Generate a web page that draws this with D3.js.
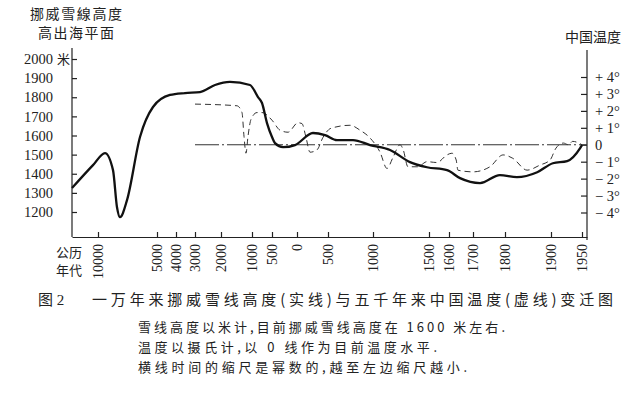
<!DOCTYPE html>
<html>
<head>
<meta charset="utf-8">
<script src="https://cdn.jsdelivr.net/npm/d3@7"></script>
<style>
  body { margin: 0; background: #fff; }
  svg { display: block; font-family: "Liberation Serif", "Times New Roman", "DejaVu Serif", "Noto Sans CJK SC", serif; }
  .axis path, .axis line { stroke: #222; stroke-width: 1.2; }
  .axis text { fill: #222; font-family: "Liberation Serif", "Times New Roman", "DejaVu Serif", serif; }
</style>
</head>
<body>
<div id="app"></div>
<script>
// Norwegian snow line height (m), solid line
const snowYears = [-12000, -10385, -9407, -8729, -8390, -8136, -7542, -6441, -5339, -4316, -3526, -2808, -2231, -1710, -1065, -850, -750, -625, -500, -440, -280, -40, 258, 452, 600, 778, 967, 1152, 1330, 1482, 1590, 1646, 1722, 1784, 1826, 1870, 1903, 1926, 1947, 1950];
const snowHeights = [1325, 1445, 1508, 1419, 1225, 1173, 1262, 1592, 1749, 1812, 1822, 1827, 1864, 1880, 1864, 1801, 1770, 1665, 1592, 1560, 1539, 1550, 1613, 1602, 1576, 1576, 1550, 1524, 1461, 1434, 1419, 1377, 1351, 1393, 1382, 1408, 1455, 1466, 1534, 1550];

// China temperature anomaly (deg C), dashed line
const tempYears = [-3000, -1484, -1323, -1258, -1194, -1129, -1032, -875, -750, -500, -340, -180, 16, 80, 145, 210, 323, 420, 532, 744, 856, 967, 1063, 1125, 1179, 1241, 1270, 1312, 1400, 1482, 1540, 1590, 1612, 1630, 1637, 1700, 1753, 1794, 1817, 1848, 1876, 1898, 1908, 1920, 1928, 1935, 1950];
const tempValues = [2.4, 2.3, 1.9, 0.5, -0.5, 0.5, 1.5, 1.9, 1.9, 1.45, 0.86, 0.74, 1.3, 1.25, 0.44, -0.44, -0.3, 0.44, 0.97, 1.15, 0.86, 0.4, -0.44, -1.4, -0.74, 0, -0.3, -1.3, -1.3, -1.0, -1.05, -0.6, -0.5, -0.9, -1.5, -1.6, -1.3, -0.6, -0.8, -1.5, -1.2, -0.9, -0.2, 0.1, 0.0, 0.2, 0.0];

// axis ticks
const xTickYears = [-10000, -5000, -4000, -3000, -2000, -1000, -500, 0, 500, 1000, 1500, 1600, 1700, 1800, 1900, 1950];
const xTickLabels = ["10000", "5000", "4000", "3000", "2000", "1000", "500", "0", "500", "1000", "1500", "1600", "1700", "1800", "1900", "1950"];
const snowTicks = [1200, 1300, 1400, 1500, 1600, 1700, 1800, 1900, 2000];
const tempTicks = [4, 3, 2, 1, 0, -1, -2, -3, -4];
const tempTickLabels = ["+ 4°", "+ 3°", "+ 2°", "+ 1°", "0", "− 1°", "− 2°", "− 3°", "− 4°"];

const captionTitle = "图 2";
const captionMain = "一万年来挪威雪线高度(实线)与五千年来中国温度(虚线)变迁图";
const notes = [
  "雪线高度以米计,目前挪威雪线高度在 1600 米左右.",
  "温度以摄氏计,以 0 线作为目前温度水平.",
  "横线时间的缩尺是幂数的,越至左边缩尺越小."
];

const W = 641, H = 393;
const left = 72, right = 587, bottom = 237;

const svg = d3.select("#app").append("svg").attr("width", W).attr("height", H);

// time axis is compressed toward the left (non-linear), piecewise scale
const x = d3.scaleLinear()
  .domain([-12000, -10000, -5000, -4000, -3000, -2000, -1000, -500, 0, 500, 1000, 1500, 1600, 1700, 1800, 1900, 1950, 1958])
  .range([left, 98, 157, 176, 195, 221, 252, 272, 297, 328, 373, 429, 449, 473, 505, 551, 582, right]);

const ySnow = d3.scaleLinear().domain([1200, 2000]).range([212, 59]);
const yTemp = d3.scaleLinear().domain([-4, 4]).range([212.5, 77]);

// axes
svg.append("g")
  .attr("class", "axis")
  .attr("transform", `translate(0,${bottom})`)
  .call(d3.axisBottom(x).tickValues(xTickYears).tickSize(-5).tickSizeOuter(0)
    .tickFormat((d, i) => xTickLabels[i]))
  .attr("font-family", null)
  .call(g => g.selectAll("text")
    .attr("transform", "rotate(-90)")
    .attr("x", -7).attr("y", 0).attr("dy", "0.35em")
    .style("text-anchor", "end")
    .style("font-size", "14px"));

svg.append("g")
  .attr("class", "axis")
  .attr("transform", `translate(${left},0)`)
  .call(d3.axisLeft(ySnow).tickValues(snowTicks).tickSize(-5).tickSizeOuter(0).tickPadding(19)
    .tickFormat(d3.format("d")))
  .attr("font-family", null)
  .call(g => g.select(".domain").attr("d", `M0,48V${bottom}`))
  .call(g => g.selectAll("text").style("font-size", "14.5px"));

svg.append("g")
  .attr("class", "axis")
  .attr("transform", `translate(${right},0)`)
  .call(d3.axisRight(yTemp).tickValues(tempTicks).tickSize(-6).tickSizeOuter(0).tickPadding(8)
    .tickFormat((d, i) => tempTickLabels[i]))
  .attr("font-family", null)
  .call(g => g.select(".domain").attr("d", `M0,50V${bottom + 3}`))
  .call(g => g.selectAll("text").style("font-size", "14.5px"));

// zero line of present temperature
svg.append("line")
  .attr("x1", x(-3000)).attr("x2", right)
  .attr("y1", yTemp(0)).attr("y2", yTemp(0))
  .attr("stroke", "#333").attr("stroke-width", 1)
  .attr("stroke-dasharray", "24,3,2,3");

// temperature (dashed)
const tempLine = d3.line()
  .x((d, i) => x(tempYears[i]))
  .y(d => yTemp(d))
  .curve(d3.curveMonotoneX);

svg.append("path")
  .attr("d", tempLine(tempValues))
  .attr("fill", "none")
  .attr("stroke", "#333")
  .attr("stroke-width", 1)
  .attr("stroke-dasharray", "6,4");

// snow line (solid)
const snowLine = d3.line()
  .x((d, i) => x(snowYears[i]))
  .y(d => ySnow(d))
  .curve(d3.curveMonotoneX);

svg.append("path")
  .attr("d", snowLine(snowHeights))
  .attr("fill", "none")
  .attr("stroke", "#111")
  .attr("stroke-width", 2.3);

// labels
const cjk = "'Noto Sans CJK SC', sans-serif";
svg.append("text").attr("x", 76).attr("y", 19).attr("text-anchor", "middle")
  .style("font-family", cjk).style("font-size", "14px").attr("fill", "#222")
  .attr("textLength", 92).attr("lengthAdjust", "spacing")
  .text("挪威雪線高度");
svg.append("text").attr("x", 76).attr("y", 38).attr("text-anchor", "middle")
  .style("font-family", cjk).style("font-size", "14px").attr("fill", "#222")
  .attr("textLength", 76).attr("lengthAdjust", "spacing")
  .text("高出海平面");
svg.append("text").attr("x", 57).attr("y", 64)
  .style("font-family", cjk).style("font-size", "13px").attr("fill", "#222")
  .text("米");
svg.append("text").attr("x", 593).attr("y", 42).attr("text-anchor", "middle")
  .style("font-family", cjk).style("font-size", "14px").attr("fill", "#222")
  .text("中国温度");
svg.append("text").attr("x", 56).attr("y", 257)
  .style("font-family", cjk).style("font-size", "13px").attr("fill", "#222")
  .text("公历");
svg.append("text").attr("x", 56).attr("y", 275)
  .style("font-family", cjk).style("font-size", "13px").attr("fill", "#222")
  .text("年代");

// caption
svg.append("text").attr("x", 38).attr("y", 305)
  .style("font-size", "15px").attr("fill", "#222")
  .text(captionTitle);
svg.append("text").attr("x", 92).attr("y", 305)
  .style("font-family", cjk).style("font-size", "15px").attr("fill", "#222")
  .attr("textLength", 521).attr("lengthAdjust", "spacing")
  .text(captionMain);

const noteWidths = [367, 299, 329];
notes.forEach((t, i) => {
  svg.append("text").attr("x", 138).attr("y", 332 + i * 20)
    .style("font-family", cjk).style("font-size", "13px").attr("fill", "#222")
    .attr("textLength", noteWidths[i]).attr("lengthAdjust", "spacing")
    .text(t);
});
</script>
</body>
</html>
